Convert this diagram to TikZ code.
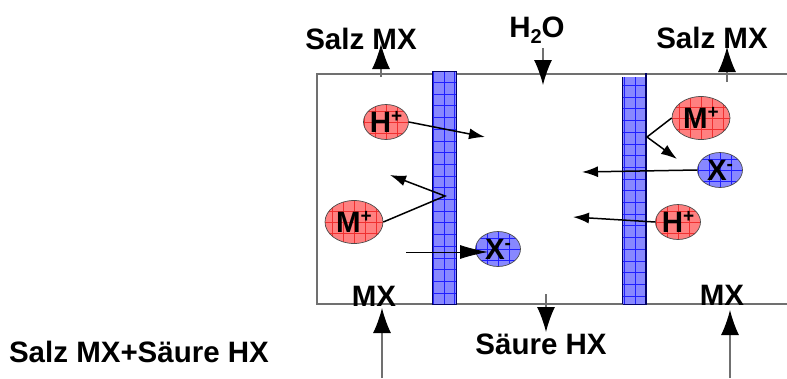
\documentclass[tikz,border=0pt]{standalone}
\usepackage{fontspec}
\setmainfont{Liberation Sans}
\usetikzlibrary{arrows.meta, shapes.geometric}
\definecolor{framegray}{HTML}{707070}
\definecolor{memfill}{HTML}{8888FF}
\definecolor{memgrid}{HTML}{2020FF}
\definecolor{posfill}{HTML}{FF8080}
\definecolor{posgrid}{HTML}{F03030}
\newcommand{\ionmark}[2]{\smash{\makebox[0pt]{\raisebox{-0.36em}{#1\raisebox{0.36em}{\fontsize{19}{19}\selectfont #2}}}}}
\tikzset{
  frameline/.style={draw=framegray, line width=1.3pt},
  membrane/.style={rectangle, draw=black!60!blue, fill=memfill, line width=0.8pt, minimum width=24pt, inner sep=0pt,
    path picture={\draw[memgrid, line width=0.3pt, xshift=1.7pt, yshift=2pt] (path picture bounding box.south west) grid[xstep=10.5pt, ystep=11.7pt] (path picture bounding box.north east);}},
  ionbase/.style={ellipse, draw=black!70, line width=0.7pt, inner sep=0pt, font=\bfseries\fontsize{29.5}{31}\selectfont},
  ionsmall/.style={ionbase, minimum width=45pt, minimum height=35pt},
  ionlarge/.style={ionbase, minimum width=58pt, minimum height=43pt},
  posion/.style={fill=posfill, path picture={\draw[posgrid, line width=0.35pt] (path picture bounding box.south west) grid[step=11pt] (path picture bounding box.north east);}},
  negion/.style={fill=memfill, path picture={\draw[memgrid, line width=0.35pt] (path picture bounding box.south west) grid[step=11pt] (path picture bounding box.north east);}},
  label-text/.style={font=\bfseries\fontsize{29.5}{31}\selectfont, inner sep=0pt},
  feed/.style={-{Latex[length=25pt, width=18pt, color=black]}, draw=framegray, line width=1.2pt},
  flow/.style={-{Latex[length=16pt, width=11pt]}, draw=black, line width=1.5pt},
  thinflow/.style={-{Latex[length=28pt, width=14pt]}, draw=black, line width=0.8pt}
}
\begin{document}
\begin{tikzpicture}[x=1pt, y=-1pt]
\useasboundingbox (0,0) rectangle (787,378);

\coordinate (topleft) at (317,74);
\coordinate (topright) at (787,74);
\coordinate (botleft) at (317,304);
\coordinate (botright) at (787,304);
\draw[frameline] (topright) -- (topleft) -- (botleft) -- (botright);

\node[membrane, minimum height=233pt] (memleft) at (444,187.5) {};
\node[membrane, minimum height=227pt, draw=none] (memright) at (635,190.5) {};
\draw[black!60!blue, line width=0.8pt] (memright.south west) -- (memright.north west);
\coordinate (memrighttop) at (646,73);
\coordinate (memrightbot) at (646,304);
\draw[black!60!blue, line width=1.2pt] (memrighttop) -- (memrightbot);
\draw[black!60!blue, line width=0.8pt] (memright.south west) -- (memright.south east);

% feeds through the frame
\coordinate (salzlefta) at (381,77);
\coordinate (salzleftb) at (381,44);
\coordinate (salzrighta) at (727,82);
\coordinate (salzrightb) at (727,47);
\coordinate (watera) at (543,48);
\coordinate (waterb) at (543,85);
\coordinate (acida) at (546,294);
\coordinate (acidb) at (546,332);
\coordinate (mxlefta) at (382,378);
\coordinate (mxleftb) at (382,308);
\coordinate (mxrighta) at (730,378);
\coordinate (mxrightb) at (730,310);
\draw[feed] (salzlefta) -- (salzleftb);
\draw[feed] (salzrighta) -- (salzrightb);
\draw[feed] (watera) -- (waterb);
\draw[feed] (acida) -- (acidb);
\draw[feed] (mxlefta) -- (mxleftb);
\draw[feed] (mxrighta) -- (mxrightb);

\node[ionsmall, posion] (hleft) at (386,122) {\ionmark{H}{+}};
\node[ionlarge, posion] (mleft) at (354,222) {\ionmark{M}{+}};
\node[ionsmall, negion] (xleft) at (498,249) {\ionmark{X}{-}};
\node[ionlarge, posion] (mright) at (701,118) {\ionmark{M}{+}};
\node[ionsmall, negion] (xright) at (720,170) {\ionmark{X}{-}};
\node[ionsmall, posion] (hright) at (678,222) {\ionmark{H}{+}};

% ion paths
\coordinate (hleftend) at (485,137);
\coordinate (mleftbend) at (445,196);
\coordinate (mleftend) at (390,175);
\coordinate (xleftstart) at (406,252);
\coordinate (xleftend) at (488,252);
\coordinate (mrightbend) at (647,137);
\coordinate (mrightend) at (677,159);
\coordinate (xrightend) at (582,172);
\coordinate (hrightend) at (573,217);
\draw[flow] (hleft.east) -- (hleftend);
\draw[flow] (mleft.east) -- (mleftbend) -- (mleftend);
\draw[thinflow] (xleftstart) -- (xleftend);
\draw[flow] (mright.west) -- (mrightbend) -- (mrightend);
\draw[flow] (xright.west) -- (xrightend);
\draw[flow] (hright.west) -- (hrightend);

\node[label-text] (salzleft) at (361,39) {Salz MX};
\node[label-text] (salzright) at (712,38) {Salz MX};
\node[label-text] (water) at (537,30) {H\raisebox{-0.2em}{\fontsize{20}{20}\selectfont 2}O};
\node[label-text] (mxleft) at (374,296) {MX};
\node[label-text] (mxright) at (722,295) {MX};
\node[label-text] (acid) at (541,344) {Säure HX};
\node[label-text] (mixture) at (139,352) {Salz MX+Säure HX};

\end{tikzpicture}
\end{document}
